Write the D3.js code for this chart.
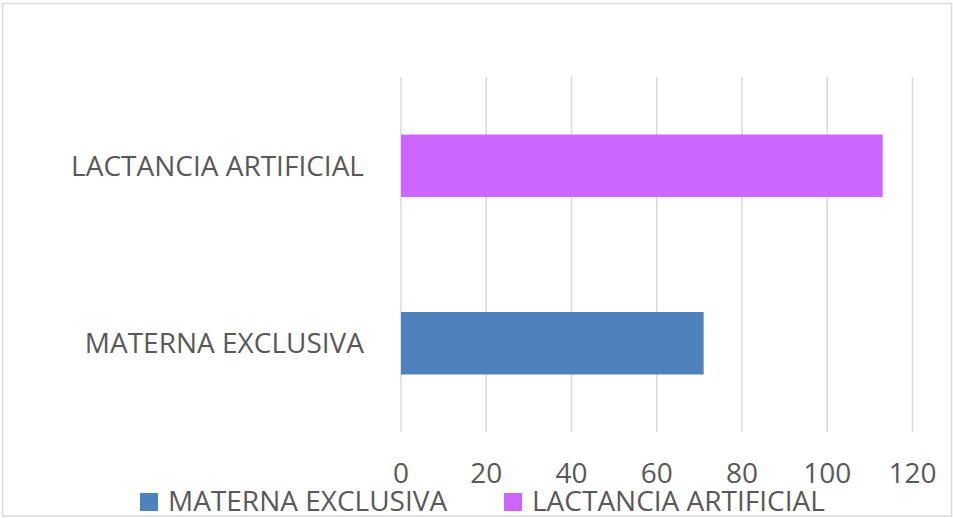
<!DOCTYPE html>
<html>
<head>
<meta charset="utf-8">
<script src="https://cdn.jsdelivr.net/npm/d3@7"></script>
<style>
  body { margin: 0; background: #fff; }
  svg { display: block; }
  text { font-family: "Open Sans", "Liberation Sans", sans-serif; fill: #595959; }
</style>
</head>
<body>
<div class="canvas"></div>
<script>
// chart data
const categories = ['LACTANCIA ARTIFICIAL', 'MATERNA EXCLUSIVA'];
const values = [113, 71];
const colors = ['#cc66ff', '#4f81bd'];
const ticks = [0, 20, 40, 60, 80, 100, 120];
const legendItems = ['MATERNA EXCLUSIVA', 'LACTANCIA ARTIFICIAL'];
const legendColors = ['#4f81bd', '#cc66ff'];

const dims = { width: 953, height: 518 };
const plot = { left: 401, right: 912.5, top: 77, bottom: 432 };
const fontSize = 28;

const svg = d3.select('.canvas')
    .append('svg')
    .attr('width', dims.width)
    .attr('height', dims.height);

// chart border
svg.append('rect')
    .attr('x', 2.5).attr('y', 3.5)
    .attr('width', 949).attr('height', 512.5)
    .attr('fill', '#fff')
    .attr('stroke', '#d9d9d9')
    .attr('stroke-width', 1.5);

const x = d3.scaleLinear()
    .domain([0, 120])
    .range([plot.left, plot.right]);

const y = d3.scaleBand()
    .domain(categories)
    .range([plot.top, plot.bottom])
    .paddingInner(0.648)
    .paddingOuter(0.324);

// vertical gridlines
svg.append('g')
    .selectAll('line')
    .data(ticks)
    .enter()
    .append('line')
        .attr('x1', d => x(d)).attr('x2', d => x(d))
        .attr('y1', plot.top).attr('y2', plot.bottom)
        .attr('stroke', '#d9d9d9')
        .attr('stroke-width', 1.5);

// bars
svg.append('g')
    .selectAll('rect')
    .data(categories)
    .enter()
    .append('rect')
        .attr('x', x(0))
        .attr('y', d => y(d))
        .attr('width', (d, i) => x(values[i]) - x(0))
        .attr('height', y.bandwidth())
        .attr('fill', (d, i) => colors[i]);

// x tick labels
svg.append('g')
    .selectAll('text')
    .data(ticks)
    .enter()
    .append('text')
        .attr('x', d => x(d))
        .attr('y', 483)
        .attr('text-anchor', 'middle')
        .attr('font-size', fontSize)
        .text(d => d);

// category labels
svg.append('g')
    .selectAll('text')
    .data(categories)
    .enter()
    .append('text')
        .attr('x', 364)
        .attr('y', d => y(d) + y.bandwidth() / 2)
        .attr('dy', '0.36em')
        .attr('text-anchor', 'end')
        .attr('font-size', fontSize)
        .text(d => d);

// legend
const legendX = [140, 504];
const legend = svg.append('g')
    .selectAll('g')
    .data(legendItems)
    .enter()
    .append('g')
        .attr('transform', (d, i) => `translate(${legendX[i]}, 493)`);

legend.append('rect')
    .attr('width', 18).attr('height', 18)
    .attr('fill', (d, i) => legendColors[i]);

legend.append('text')
    .attr('x', 28)
    .attr('y', 18)
    .attr('font-size', fontSize)
    .text(d => d);
</script>
</body>
</html>
